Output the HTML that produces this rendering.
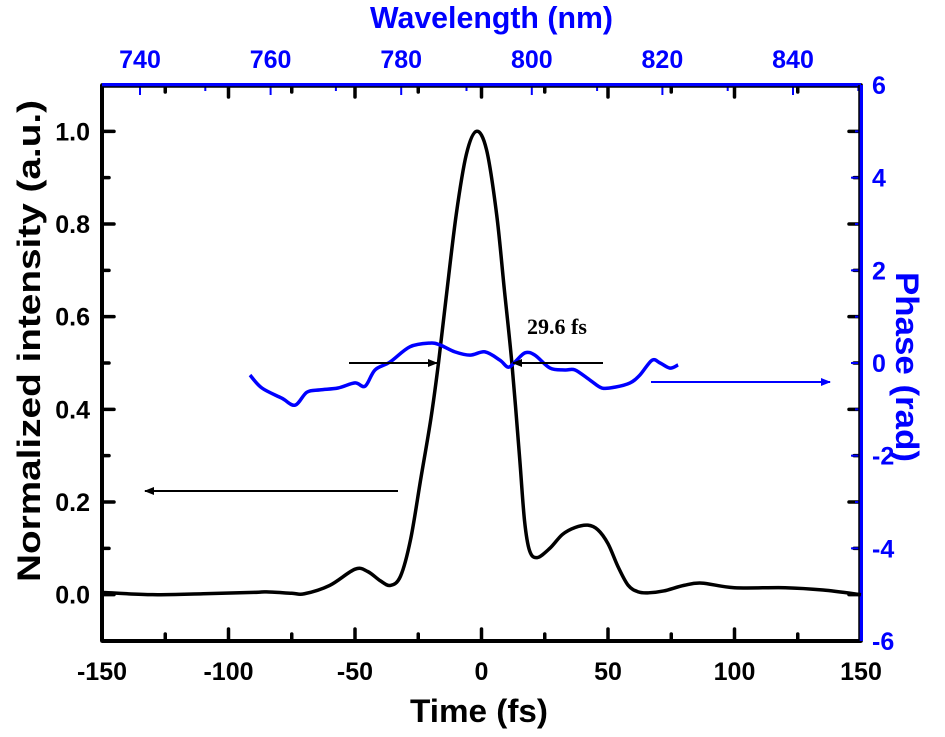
<!DOCTYPE html>
<html><head><meta charset="utf-8"><style>
body{margin:0;background:#fff}
svg{display:block;font-family:"Liberation Sans",Arial,sans-serif;font-weight:bold}
</style></head><body>
<svg id="chart" width="945" height="737" viewBox="0 0 945 737"></svg>
<script>
const timeTicks=[-150,-100,-50,0,50,100,150];
const intTicks=[0.0,0.2,0.4,0.6,0.8,1.0];
const phaseTicks=[-6,-4,-2,0,2,4,6];
const wlTicks=[740,760,780,800,820,840];
const intT=[-150,-130,-110,-90,-85,-75,-70,-60,-50,-45,-40,-36,-32,-28,-24,-20,-17,-14,-10,-6,-2,2,6,9,12,15,17,19,22,27,32,37,42,46,50,54,58,62,66,72,80,87,100,120,135,150];
const intV=[0.005,0.0,0.002,0.005,0.006,0.003,0.002,0.02,0.055,0.05,0.03,0.02,0.04,0.12,0.25,0.38,0.5,0.64,0.82,0.95,1.0,0.96,0.82,0.66,0.5,0.3,0.16,0.095,0.08,0.1,0.13,0.145,0.15,0.14,0.11,0.06,0.02,0.006,0.004,0.008,0.02,0.025,0.015,0.015,0.01,0.0];
const phT=[-91.5,-86.8,-78.9,-73.7,-69,-63.8,-56.7,-50,-46,-42.1,-36.2,-28.3,-20.4,-16.4,-10.5,-4.5,1.4,7.3,10.5,13.2,17.2,21.1,27.1,33,37,42.9,47.6,52.8,58.7,62.6,67.4,70.6,74.5,77.7];
const phV=[-0.26,-0.54,-0.76,-0.91,-0.63,-0.58,-0.54,-0.43,-0.5,-0.15,0.02,0.35,0.43,0.39,0.24,0.17,0.24,0.06,-0.09,0.02,0.22,0.17,-0.11,-0.15,-0.15,-0.37,-0.54,-0.52,-0.43,-0.26,0.06,0,-0.11,-0.04];
const fwhmLabel="29.6 fs";

const L=102,R=861,T=85,B=641;
const X=t=>L+(t+150)/300*(R-L);
const Y=v=>B-(v+0.1)/1.2*(B-T);
const YP=p=>B-(p+6)/12*(B-T);
const XW=w=>140+(w-740)*6.53;
const svg=document.getElementById('chart');
const NS='http://www.w3.org/2000/svg';
function el(tag,attrs,parent){const e=document.createElementNS(NS,tag);for(const k in attrs)e.setAttribute(k,attrs[k]);(parent||svg).appendChild(e);return e;}
function smooth(pts){let d=`M${pts[0][0]},${pts[0][1]}`;for(let i=0;i<pts.length-1;i++){const p0=pts[Math.max(i-1,0)],p1=pts[i],p2=pts[i+1],p3=pts[Math.min(i+2,pts.length-1)];d+=` C${p1[0]+(p2[0]-p0[0])/6},${p1[1]+(p2[1]-p0[1])/6} ${p2[0]-(p3[0]-p1[0])/6},${p2[1]-(p3[1]-p1[1])/6} ${p2[0]},${p2[1]}`;}return d;}

el('defs',{}).innerHTML='<marker id="ab" markerWidth="10" markerHeight="8" refX="9" refY="4" orient="auto" markerUnits="userSpaceOnUse"><path d="M0,0 L10,4 L0,8 Z" fill="#000"/></marker><marker id="abl" markerWidth="10" markerHeight="8" refX="9" refY="4" orient="auto" markerUnits="userSpaceOnUse"><path d="M0,0 L10,4 L0,8 Z" fill="#00f"/></marker>';

let g=el('g',{stroke:'#000','stroke-width':3.5,'stroke-linecap':'round'});

for(let t=-150;t<=150;t+=25){const len=(t%50===0)?12:7;el('line',{x1:X(t),x2:X(t),y1:B,y2:B-len},g);el('line',{x1:X(t),x2:X(t),y1:T,y2:T+len},g);}
for(let k=-1;k<=11;k++){const v2=k/10;const len=(k%2===0)?12:7;el('line',{x1:L,x2:L+len,y1:Y(v2),y2:Y(v2)},g);el('line',{x1:R,x2:R-len,y1:Y(v2),y2:Y(v2)},g);}
let gb=el('g',{stroke:'#00f','stroke-width':2});
for(let w=740;w<=850;w+=10){if(XW(w)>R-2)continue;const len=(w%20===0)?10:6;el('line',{x1:XW(w),x2:XW(w),y1:T,y2:T+len},gb);}
for(let p=-6;p<=6;p++){const len=(p%2===0)?10:6;el('line',{x1:R,x2:R-len,y1:YP(p),y2:YP(p)},gb);}

el('line',{x1:L,y1:T,x2:L,y2:B,stroke:'#000','stroke-width':4,});
el('line',{x1:L,y1:B,x2:R,y2:B,stroke:'#000','stroke-width':4,});
el('line',{x1:L,y1:T,x2:R,y2:T,stroke:'#00f','stroke-width':4,});
el('line',{x1:R,y1:T,x2:R,y2:B,stroke:'#00f','stroke-width':4,});
el('line',{x1:L,y1:T+2,x2:R-2,y2:T+2,stroke:'#000','stroke-width':1.5});
el('line',{x1:R-2,y1:T,x2:R-2,y2:B,stroke:'#000','stroke-width':1.5});

timeTicks.forEach(t=>{const e=el('text',{x:X(t),y:680,'font-size':25,'text-anchor':'middle'});e.textContent=t;});
intTicks.forEach(v=>{const e=el('text',{x:90,y:Y(v)+9,'font-size':25,'text-anchor':'end'});e.textContent=v.toFixed(1);});
phaseTicks.forEach(p=>{const e=el('text',{x:872,y:YP(p)+9,'font-size':25,fill:'#00f'});e.textContent=p;});
wlTicks.forEach(w=>{const e=el('text',{x:XW(w),y:68,'font-size':25,fill:'#00f','text-anchor':'middle'});e.textContent=w;});
let e;
e=el('text',{x:410,y:722,'font-size':32,textLength:138,lengthAdjust:'spacingAndGlyphs'});e.textContent='Time (fs)';
e=el('text',{x:370,y:28,'font-size':31,fill:'#00f',textLength:243,lengthAdjust:'spacingAndGlyphs'});e.textContent='Wavelength (nm)';
e=el('text',{x:0,y:0,'font-size':32,transform:'translate(40,582) rotate(-90)',textLength:482,lengthAdjust:'spacingAndGlyphs'});e.textContent='Normalized intensity (a.u.)';
e=el('text',{x:0,y:0,'font-size':32,fill:'#00f',transform:'translate(896,272) rotate(90)',textLength:190,lengthAdjust:'spacingAndGlyphs'});e.textContent='Phase (rad)';

el('path',{d:smooth(intT.map((t,i)=>[X(t),Y(intV[i])])),fill:'none',stroke:'#000','stroke-width':3.5,});
el('path',{d:smooth(phT.map((t,i)=>[X(t),YP(phV[i])])),fill:'none',stroke:'#00f','stroke-width':3.5,});

el('line',{x1:398,y1:491,x2:145,y2:491,stroke:'#000','stroke-width':2,'marker-end':'url(#ab)',});
el('line',{x1:651,y1:382,x2:830,y2:382,stroke:'#00f','stroke-width':2,'marker-end':'url(#abl)',});
el('line',{x1:349,y1:363,x2:437,y2:363,stroke:'#000','stroke-width':2,'marker-end':'url(#ab)',});
el('line',{x1:603,y1:363,x2:513,y2:363,stroke:'#000','stroke-width':2,'marker-end':'url(#ab)',});
e=el('text',{x:527,y:334,'font-size':22,'font-family':'"Liberation Serif",serif'});e.textContent=fwhmLabel;
</script>
</body></html>
